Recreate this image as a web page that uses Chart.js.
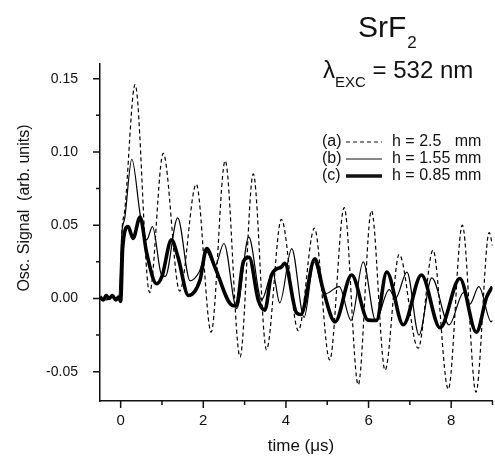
<!DOCTYPE html>
<html><head><meta charset="utf-8">
<script src="https://cdn.jsdelivr.net/npm/chart.js@4.4.1/dist/chart.umd.min.js"></script>
<style>html,body{margin:0;padding:0;background:#fff}#wrap{width:495px;height:466px;position:relative}</style>
</head><body><div id="wrap"><canvas id="c" width="495" height="466"></canvas></div>
<script>
// (a) h = 2.5 mm (dashed)
const timeA = [-0.5,-0.02,0.03,0.10,0.35,0.70,1.03,1.43,1.83,2.19,2.53,2.89,3.21,3.53,3.89,4.30,4.69,5.06,5.41,5.75,6.07,6.40,6.74,7.20,7.56,7.93,8.27,8.60,8.92,9.0];
const sigA  = [0,0,0.045,0.06,0.146,0.004,0.099,0.005,0.078,-0.023,0.094,-0.040,0.085,-0.035,0.054,-0.022,0.048,-0.042,0.062,-0.059,0.060,-0.049,0.030,-0.034,0.033,-0.062,0.050,-0.064,0.045,0.036];
// (b) h = 1.55 mm (thin)
const timeB = [-0.5,-0.35,-0.2,-0.05,0.03,0.10,0.27,0.48,0.63,0.77,0.99,1.08,1.38,1.68,1.90,2.08,2.28,2.50,2.81,3.10,3.41,3.68,3.85,4.14,4.44,4.68,4.94,5.29,5.58,5.87,6.17,6.50,6.65,6.93,7.22,7.53,7.95,8.30,8.45,8.67,8.97,9.0];
const sigB  = [0.001,-0.001,0.001,0,0.045,0.055,0.095,0.056,0.040,0.049,0.016,0.015,0.055,0.012,0.018,0.032,0.022,0.0375,-0.007,0.042,-0.001,0.018,-0.003,0.034,-0.013,0.025,0.003,0.008,-0.015,0.025,-0.015,0.006,0.0,0.018,-0.025,0.014,-0.018,0.004,-0.004,0.008,-0.016,-0.015];
// (c) h = 0.85 mm (thick)
const timeC = [-0.5,-0.42,-0.35,-0.28,-0.2,-0.12,-0.05,0.0,0.05,0.18,0.30,0.47,0.63,0.87,1.0,1.23,1.39,1.64,1.92,2.08,2.28,2.69,2.80,2.97,3.11,3.33,3.49,3.65,3.89,3.97,4.26,4.36,4.70,4.90,5.19,5.59,5.99,6.19,6.44,6.84,7.28,7.73,8.21,8.61,8.86,9.0];
const sigC  = [0.001,-0.001,0.002,0.0,0.002,-0.001,0.001,-0.002,0.035,0.049,0.041,0.0556,0.031,0.010,0.015,0.040,0.028,0.002,0.0125,0.034,0.0215,-0.0045,-0.005,0.025,0.028,-0.001,-0.008,0.016,0.0215,0.024,-0.010,-0.011,0.027,0.006,-0.016,0.016,-0.0148,-0.015,0.018,-0.018,0.016,-0.020,0.0136,-0.023,0.001,0.008];

const xMajorTicks = [0,2,4,6,8];
const xMinorTicks = [1,3,5,7,9];
const yMajorTicks = [-0.05,0.00,0.05,0.10,0.15];
const yMinorTicks = [-0.025,0.025,0.075,0.125];
const seriesTags = ['(a)','(b)','(c)'];
const seriesLabels = ['h = 2.5   mm','h = 1.55 mm','h = 0.85 mm'];

const FONT = '"Liberation Sans", Arial, sans-serif';
const toXY = (t, s) => t.map((x, i) => ({x, y: s[i]}));

const styles = [
  {borderWidth:1.2, borderDash:[4,3]},
  {borderWidth:1.2, borderDash:[]},
  {borderWidth:3.6, borderDash:[]}
];

const decor = {
  id:'decor',
  afterDraw(chart){
    const ctx = chart.ctx, xs = chart.scales.x, ys = chart.scales.y;
    ctx.save();
    ctx.strokeStyle = '#111'; ctx.lineWidth = 1.5;
    ctx.beginPath();
    xMajorTicks.forEach(v=>{const p=xs.getPixelForValue(v); ctx.moveTo(p,xs.top); ctx.lineTo(p,xs.top+7);});
    xMinorTicks.forEach(v=>{const p=xs.getPixelForValue(v); ctx.moveTo(p,xs.top); ctx.lineTo(p,xs.top+4);});
    yMajorTicks.forEach(v=>{const p=ys.getPixelForValue(v); ctx.moveTo(ys.right,p); ctx.lineTo(ys.right-7,p);});
    yMinorTicks.forEach(v=>{const p=ys.getPixelForValue(v); ctx.moveTo(ys.right,p); ctx.lineTo(ys.right-4,p);});
    ctx.stroke();
    ctx.fillStyle = '#111';
    // title
    ctx.textBaseline = 'alphabetic'; ctx.textAlign = 'left';
    ctx.font = '30px ' + FONT;
    let x = 358; ctx.fillText('SrF', x, 37); x += ctx.measureText('SrF').width + 1;
    ctx.font = '17px ' + FONT; ctx.fillText('2', x, 48);
    ctx.font = '24px ' + FONT;
    x = 323; ctx.fillText('\u03bb', x, 78); x += ctx.measureText('\u03bb').width;
    ctx.font = '15px ' + FONT; ctx.fillText('EXC', x, 87); x += ctx.measureText('EXC').width;
    ctx.font = '24px ' + FONT; ctx.fillText(' = 532 nm', x, 78);
    // legend
    ctx.font = '16px ' + FONT; ctx.textBaseline = 'middle';
    const rowY = [142, 159, 176];
    rowY.forEach((y, i) => {
      ctx.fillText(seriesTags[i], 322, y);
      ctx.save();
      ctx.lineWidth = styles[i].borderWidth; ctx.setLineDash(styles[i].borderDash);
      ctx.beginPath(); ctx.moveTo(346, y); ctx.lineTo(382, y); ctx.stroke();
      ctx.restore();
      ctx.fillText(seriesLabels[i], 392, y);
    });
    // axis titles
    ctx.font = '17px ' + FONT; ctx.textAlign = 'center'; ctx.textBaseline = 'middle';
    ctx.fillText('time (\u03bcs)', 301, 446);
    ctx.save(); ctx.translate(25, 208); ctx.rotate(-Math.PI/2);
    ctx.font = '16px ' + FONT;
    ctx.fillText('Osc. Signal  (arb. units)', 0, 0);
    ctx.restore();
    ctx.restore();
  }
};

new Chart(document.getElementById('c'), {
  type: 'line',
  data: {
    datasets: [toXY(timeA, sigA), toXY(timeB, sigB), toXY(timeC, sigC)].map((d, i) => ({
      label: seriesLabels[i], data: d, borderColor:'#000', backgroundColor:'#000',
      borderWidth: styles[i].borderWidth, borderDash: styles[i].borderDash,
      pointRadius: 0, fill: false, cubicInterpolationMode: 'monotone', borderJoinStyle:'round'
    }))
  },
  options: {
    responsive: false, animation: false, devicePixelRatio: 1,
    layout: { padding: { left: 0, right: 2.5, top: 64, bottom: 0 } },
    plugins: { legend: { display: false }, tooltip: { enabled: false } },
    scales: {
      x: {
        type: 'linear', min: -0.5, max: 9,
        grid: { display: false }, border: { display: true, color: '#111', width: 1.5 },
        afterBuildTicks: s => { s.ticks = xMajorTicks.map(v => ({value: v})); },
        afterFit: s => { s.height = 65; },
        ticks: { color: '#111', font: { family: FONT, size: 15 }, padding: 3, maxRotation: 0,
          callback: v => String(v) }
      },
      y: {
        type: 'linear', min: -0.07, max: 0.16,
        grid: { display: false }, border: { display: true, color: '#111', width: 1.5 },
        afterBuildTicks: s => { s.ticks = yMajorTicks.map(v => ({value: v})); },
        afterFit: s => { s.width = 100; },
        ticks: { color: '#111', font: { family: FONT, size: 14 }, padding: 14,
          callback: v => Number(v).toFixed(2) }
      }
    }
  },
  plugins: [decor]
});
</script></body></html>
